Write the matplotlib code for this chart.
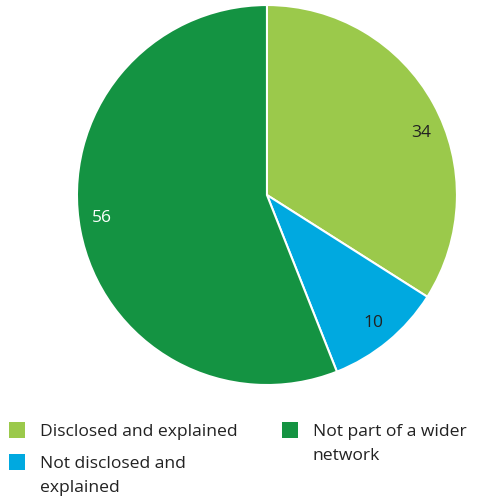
"""Pie chart of network disclosure status."""

import numpy as np
import matplotlib

matplotlib.use("Agg")

import matplotlib.pyplot as plt
from matplotlib.patches import Rectangle

CATEGORIES = ["Disclosed and explained", "Not disclosed and\nexplained", "Not part of a wider\nnetwork"]
VALUES = [34, 10, 56]
COLORS = ["#9bc94b", "#00a9e0", "#149342"]
LABEL_COLORS = ["#222222", "#222222", "#ffffff"]
LABEL_NUDGE = [-7, 0, -3]  # degrees, shifts value labels along the arc

plt.rcParams["font.family"] = ["Open Sans", "DejaVu Sans"]

fig = plt.figure(figsize=(4.81, 4.97), dpi=100)
ax = fig.add_axes([0.160, 0.2253, 0.790, 0.7646])
wedges, _ = ax.pie(
    VALUES,
    colors=COLORS,
    startangle=90,
    counterclock=False,
    radius=1.0,
    wedgeprops=dict(edgecolor="white", linewidth=1.5),
)
for w, v, c, nudge in zip(wedges, VALUES, LABEL_COLORS, LABEL_NUDGE):
    mid = np.deg2rad((w.theta1 + w.theta2) / 2 + nudge)
    ax.text(0.875 * np.cos(mid), 0.875 * np.sin(mid), str(v),
            ha="center", va="center", fontsize=12.5, color=c)
ax.set_xlim(-1, 1)
ax.set_ylim(-1, 1)
ax.set_aspect("equal")
ax.axis("off")

# legend drawn by hand in pixel coordinates (origin top-left)
W, H = 481, 497
lax = fig.add_axes([0, 0, 1, 1])
lax.set_xlim(0, W)
lax.set_ylim(H, 0)
lax.axis("off")
entries = [(9, 422, 0), (9, 454, 1), (282, 422, 2)]
for x, y, i in entries:
    lax.add_patch(Rectangle((x, y), 16, 16, color=COLORS[i], lw=0))
    lax.text(x + 31, y + 8, CATEGORIES[i].split("\n")[0], ha="left", va="center_baseline",
             fontsize=12.6, color="#222222")
    rest = CATEGORIES[i].split("\n")[1:]
    for k, line in enumerate(rest, start=1):
        lax.text(x + 31, y + 8 + 24 * k, line, ha="left", va="center_baseline",
                 fontsize=12.6, color="#222222")

fig.savefig("out.png", dpi=100)
plt.close(fig)
